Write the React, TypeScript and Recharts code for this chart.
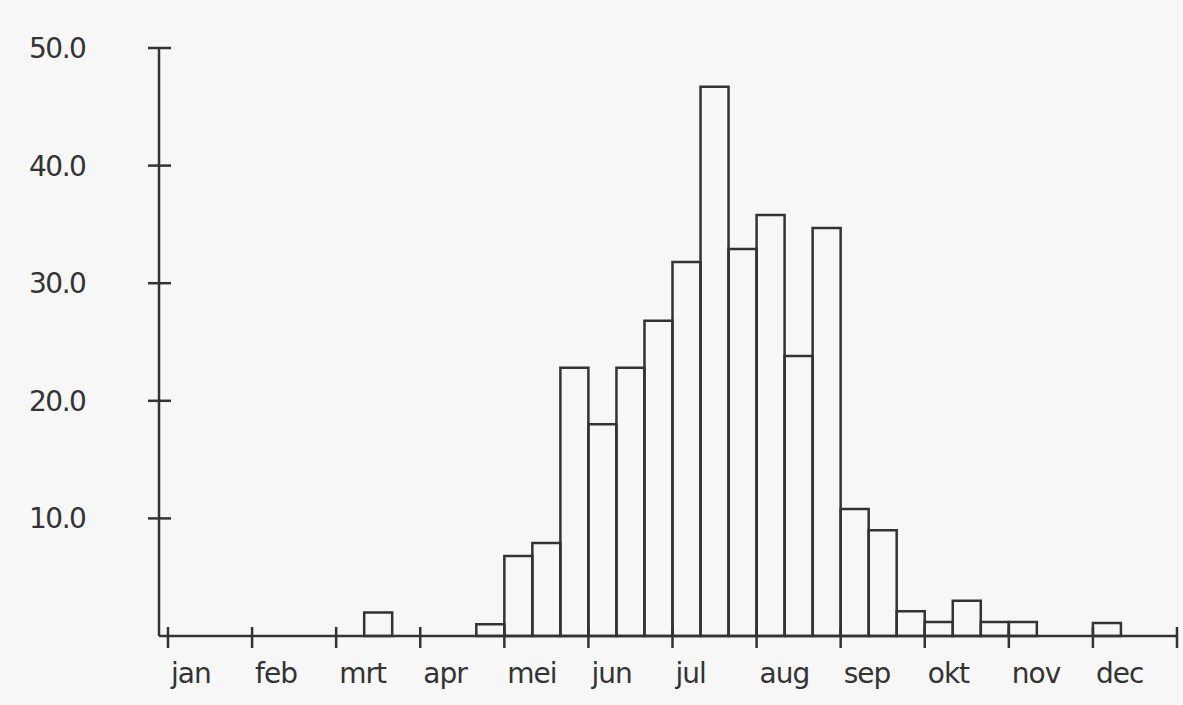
import { Bar, BarChart, XAxis, YAxis } from "recharts";

// one bar per decade (10-day period), three per month
const months = ["jan", "feb", "mrt", "apr", "mei", "jun", "jul", "aug", "sep", "okt", "nov", "dec"];
const decades = ["I", "II", "III"];
const values = [
  0, 0, 0, // jan
  0, 0, 0, // feb
  0, 2.0, 0, // mrt
  0, 0, 1.0, // apr
  6.8, 7.9, 22.8, // mei
  18.0, 22.8, 26.8, // jun
  31.8, 46.7, 32.9, // jul
  35.8, 23.8, 34.7, // aug
  10.8, 9.0, 2.1, // sep
  1.2, 3.0, 1.2, // okt
  1.2, 0, 0, // nov
  1.1, 0, 0, // dec
];
const yTicks = [10, 20, 30, 40, 50];

const data = values.map((v, i) => ({
  key: `${months[Math.floor(i / 3)]}-${decades[i % 3]}`,
  value: v,
}));

const W = 1183;
const H = 705;
const LEFT = 159;
const RIGHT = 6;
const PAD = 9;
const BAND = (W - LEFT - RIGHT - PAD) / data.length;
const INK = "#333333";
const FONT = "'DejaVu Sans', sans-serif";

function MonthTick(props: any) {
  const { x, y, index } = props;
  const start = x - BAND / 2;
  return (
    <g>
      {index % 3 === 0 && (
        <>
          <line x1={start} x2={start} y1={y - 9} y2={y + 12} stroke={INK} strokeWidth={2.5} />
          <text x={start + 3} y={y + 47} fill={INK} fontSize={28} fontFamily={FONT} letterSpacing={-1}>
            {months[index / 3]}
          </text>
        </>
      )}
      {index === data.length - 1 && (
        <line x1={x + BAND / 2} x2={x + BAND / 2} y1={y - 9} y2={y + 12} stroke={INK} strokeWidth={2.5} />
      )}
    </g>
  );
}

function ValueTick(props: any) {
  const { x, y, payload } = props;
  return (
    <g>
      <line x1={x - 11} x2={x + 12} y1={y} y2={y} stroke={INK} strokeWidth={2.5} />
      <text x={29} y={y + 10} fill={INK} fontSize={28} fontFamily={FONT} letterSpacing={-1.5}>
        {payload.value.toFixed(1)}
      </text>
    </g>
  );
}

export default function App() {
  return (
    <div style={{ position: "absolute", left: 0, top: 0, width: W, height: H, background: "#f7f7f7" }}>
      <BarChart
        width={W}
        height={H}
        data={data}
        margin={{ top: 48, right: RIGHT, bottom: 9, left: 0 }}
        barCategoryGap={0}
        barGap={0}
      >
        <XAxis
          dataKey="key"
          interval={0}
          height={60}
          padding={{ left: PAD, right: 0 }}
          tickSize={0}
          tickMargin={0}
          tickLine={false}
          axisLine={{ stroke: INK, strokeWidth: 2.5 }}
          tick={<MonthTick />}
        />
        <YAxis
          width={LEFT}
          domain={[0, 50]}
          ticks={yTicks}
          tickSize={0}
          tickMargin={0}
          tickLine={false}
          axisLine={{ stroke: INK, strokeWidth: 2.5 }}
          tick={<ValueTick />}
        />
        <Bar dataKey="value" fill="none" stroke={INK} strokeWidth={2.5} isAnimationActive={false} />
      </BarChart>
    </div>
  );
}
